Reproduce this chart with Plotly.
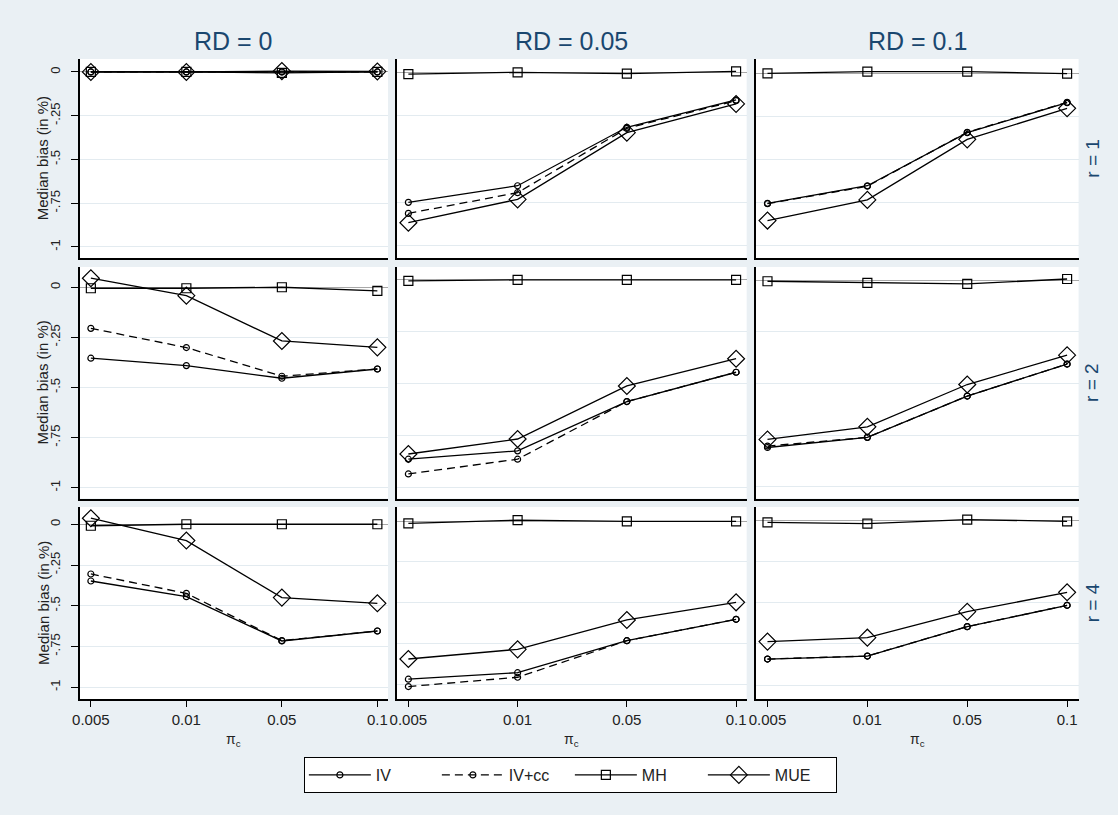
import plotly.graph_objects as go

# ---------------- data ----------------
pi_c_labels = ["0.005", "0.01", "0.05", "0.1"]
rd_labels = ["RD = 0", "RD = 0.05", "RD = 0.1"]
r_labels = ["r = 1", "r = 2", "r = 4"]
methods = ["IV", "IV+cc", "MH", "MUE"]
y_tick_vals = [0, -0.25, -0.5, -0.75, -1]
y_tick_text = ["0", "-.25", "-.5", "-.75", "-1"]

# each list: [RD=0, RD=0.05, RD=0.1], each with values at pi_c = 0.005, 0.01, 0.05, 0.1
iv_r1 = [[0.0, 0.0, 0.0, 0.0], [-0.750, -0.654, -0.316, -0.158], [-0.754, -0.652, -0.344, -0.170]]
ivcc_r1 = [[0.0, 0.0, 0.0, 0.0], [-0.814, -0.694, -0.322, -0.162], [-0.756, -0.655, -0.342, -0.168]]
mh_r1 = [[0.0, 0.0, -0.005, 0.0], [-0.009, 0.002, -0.006, 0.008], [0.0, 0.010, 0.010, -0.002]]
mue_r1 = [[0.0, 0.0, 0.005, 0.003], [-0.868, -0.733, -0.347, -0.181], [-0.854, -0.734, -0.383, -0.203]]

iv_r2 = [[-0.354, -0.391, -0.454, -0.408], [-0.865, -0.825, -0.588, -0.447], [-0.810, -0.761, -0.561, -0.406]]
ivcc_r2 = [[-0.205, -0.301, -0.444, -0.408], [-0.936, -0.865, -0.588, -0.447], [-0.803, -0.761, -0.561, -0.406]]
mh_r2 = [[-0.005, -0.005, 0.0, -0.018], [-0.008, -0.003, -0.003, -0.003], [-0.005, -0.013, -0.018, 0.006]]
mue_r2 = [[0.045, -0.042, -0.268, -0.300], [-0.840, -0.768, -0.513, -0.382], [-0.771, -0.710, -0.505, -0.363]]

iv_r4 = [[-0.348, -0.444, -0.716, -0.655], [-0.969, -0.929, -0.733, -0.602], [-0.842, -0.824, -0.645, -0.515]]
ivcc_r4 = [[-0.305, -0.424, -0.714, -0.655], [-1.014, -0.957, -0.733, -0.602], [-0.842, -0.824, -0.645, -0.515]]
mh_r4 = [[-0.009, 0.0, 0.0, 0.0], [-0.014, 0.006, -0.002, -0.002], [-0.010, -0.018, 0.006, -0.004]]
mue_r4 = [[0.037, -0.100, -0.450, -0.485], [-0.845, -0.786, -0.606, -0.498], [-0.736, -0.712, -0.554, -0.436]]

series_by_row = [
    [iv_r1, ivcc_r1, mh_r1, mue_r1],
    [iv_r2, ivcc_r2, mh_r2, mue_r2],
    [iv_r4, ivcc_r4, mh_r4, mue_r4],
]

# ---------------- layout geometry (pixels of the 1118x815 page) ----------------
W, H = 1118, 815
col_px = [(72.3, 382.7), (391.7, 744.0), (753.3, 1078.3)]
row_px = [(59, 258), (267, 498.5), (507, 699.3)]
x_ranges = [(-0.116, 3.111), (-0.105, 3.097), (-0.116, 3.115)]
y_ranges = [
    [(-1.063, 0.074), (-1.072, 0.079), (-1.071, 0.083)],
    [(-1.054, 0.101), (-1.054, 0.059), (-1.057, 0.064)],
    [(-1.074, 0.106), (-1.092, 0.086), (-1.087, 0.083)],
]

styles = {
    "IV": dict(dash="solid", symbol="circle-open", size=6),
    "IV+cc": dict(dash="8px,5px", symbol="circle-open", size=6),
    "MH": dict(dash="solid", symbol="square-open", size=9),
    "MUE": dict(dash="solid", symbol="diamond-open", size=13),
}

FONT = "Arial, 'Liberation Sans', sans-serif"
NAVY = "#1a476f"
TXT = "#222222"
BG = "#eaf0f4"
GRID = "#e3ebf0"

fig = go.Figure()
layout_axes = {}
xs = list(range(len(pi_c_labels)))

for r in range(3):
    for c in range(3):
        k = r * 3 + c + 1
        xname = "x" if k == 1 else f"x{k}"
        yname = "y" if k == 1 else f"y{k}"
        for m_i, m in enumerate(methods):
            st = styles[m]
            fig.add_trace(go.Scatter(
                x=xs, y=series_by_row[r][m_i][c], xaxis=xname, yaxis=yname,
                mode="lines+markers", name=m, legendgroup=m,
                showlegend=(k == 1),
                line=dict(color="black", width=1.3, dash=st["dash"]),
                marker=dict(symbol=st["symbol"], size=st["size"], color="black",
                            line=dict(color="black", width=1.2)),
            ))
        L, R = col_px[c]
        T, B = row_px[r]
        xa = dict(
            domain=[L / W, R / W], anchor=yname, range=list(x_ranges[c]),
            tickvals=xs, showticklabels=(r == 2), ticks="outside" if r == 2 else "",
            ticklen=6, tickcolor="black", tickwidth=1.3,
            showline=True, linecolor="black", linewidth=1.5,
            showgrid=False, zeroline=False,
            tickfont=dict(family=FONT, size=15, color=TXT),
        )
        if r == 2:
            xa["ticktext"] = pi_c_labels
        layout_axes["xaxis" if k == 1 else f"xaxis{k}"] = xa
        ya = dict(
            domain=[1 - B / H, 1 - T / H], anchor=xname, range=list(y_ranges[r][c]),
            tickvals=y_tick_vals,
            showticklabels=(c == 0), ticks="outside" if c == 0 else "",
            ticklen=7, tickcolor="black", tickwidth=1.3, tickangle=-90,
            showline=True, linecolor="black", linewidth=1.5,
            showgrid=True, gridcolor=GRID, gridwidth=1,
            zeroline=True, zerolinecolor="#a8a8a8", zerolinewidth=1,
            tickfont=dict(family=FONT, size=13, color=TXT),
        )
        if c == 0:
            ya["ticktext"] = y_tick_text
            ya["ticklabelstandoff"] = 6
        layout_axes["yaxis" if k == 1 else f"yaxis{k}"] = ya

annotations = []
for c in range(3):
    L, R = col_px[c]
    annotations.append(dict(x=(L + R) / 2 / W, y=1 - 41 / H, xref="paper", yref="paper",
                            xanchor="center", yanchor="middle",
                            text=rd_labels[c], showarrow=False,
                            font=dict(family=FONT, size=25, color=NAVY)))
    annotations.append(dict(x=(L + R) / 2 / W, y=1 - 740 / H, xref="paper", yref="paper",
                            xanchor="center", yanchor="middle",
                            text="π<sub>c</sub>", showarrow=False,
                            font=dict(family=FONT, size=14, color=TXT)))
for r in range(3):
    T, B = row_px[r]
    annotations.append(dict(x=1092 / W, y=1 - (T + B) / 2 / H, xref="paper", yref="paper",
                            xanchor="center", yanchor="middle",
                            text=r_labels[r], showarrow=False, textangle=-90,
                            font=dict(family=FONT, size=19, color=NAVY)))
    annotations.append(dict(x=35 / W, y=1 - (T + B) / 2 / H, xref="paper", yref="paper",
                            xanchor="center", yanchor="middle",
                            text="Median bias (in %)", showarrow=False, textangle=-90,
                            font=dict(family=FONT, size=15, color=TXT)))

fig.update_layout(
    width=W, height=H, autosize=False,
    margin=dict(l=0, r=0, t=0, b=0),
    paper_bgcolor=BG, plot_bgcolor="white",
    font=dict(family=FONT, color=TXT),
    annotations=annotations,
    legend=dict(orientation="h", x=298 / W, y=1 - 757 / H, xanchor="left", yanchor="top",
                bgcolor="white", bordercolor="black", borderwidth=1,
                font=dict(family=FONT, size=16, color=TXT),
                itemwidth=62, entrywidth=56, entrywidthmode="pixels"),
    **layout_axes,
)

fig.write_html("out.html", config={"displayModeBar": False},
               post_script="document.body.style.margin='0px';document.body.style.overflow='hidden';")
